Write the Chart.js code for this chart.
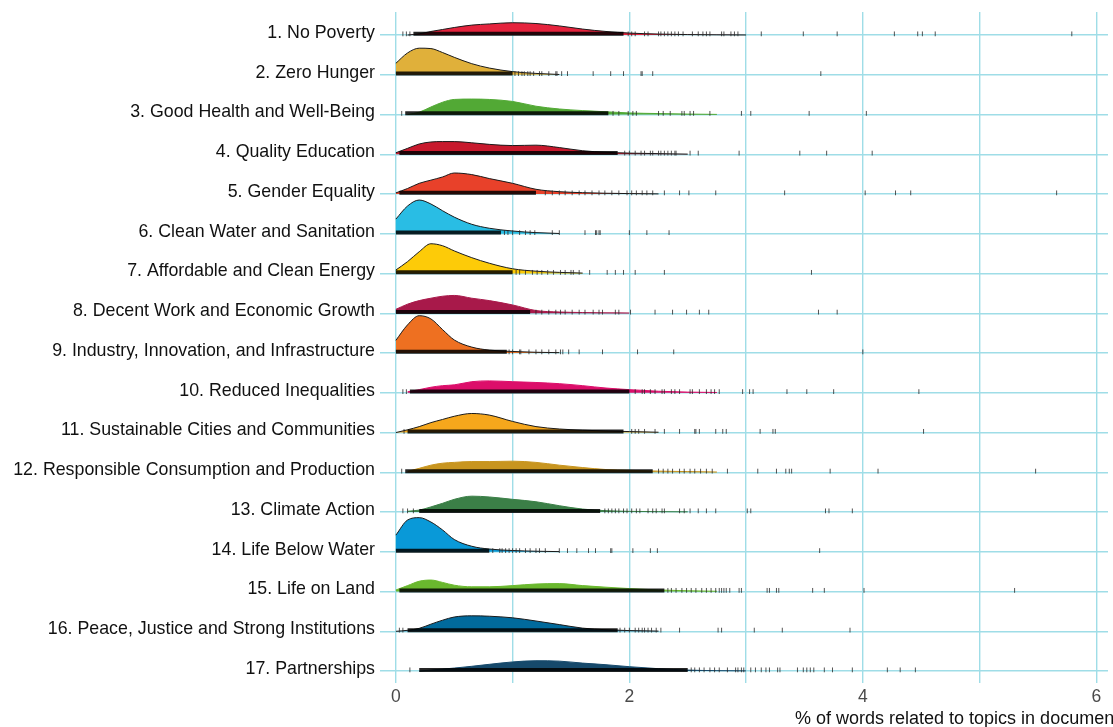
<!DOCTYPE html>
<html>
<head>
<meta charset="utf-8">
<script src="https://cdn.jsdelivr.net/npm/chart.js@4.4.1/dist/chart.umd.min.js"></script>
<style>
  html, body { margin: 0; padding: 0; background: #fff; overflow: hidden; }
  #wrap { width: 1113px; height: 727px; }
</style>
</head>
<body>
<div id="wrap"><canvas id="chart" width="1113" height="727"></canvas></div>
<script>
const goals = [
  "1. No Poverty",
  "2. Zero Hunger",
  "3. Good Health and Well-Being",
  "4. Quality Education",
  "5. Gender Equality",
  "6. Clean Water and Sanitation",
  "7. Affordable and Clean Energy",
  "8. Decent Work and Economic Growth",
  "9. Industry, Innovation, and Infrastructure",
  "10. Reduced Inequalities",
  "11. Sustainable Cities and Communities",
  "12. Responsible Consumption and Production",
  "13. Climate Action",
  "14. Life Below Water",
  "15. Life on Land",
  "16. Peace, Justice and Strong Institutions",
  "17. Partnerships",
];

const goalColors = [
  "#e5233d", "#e0b03a", "#52a935", "#c8192d", "#e8412a", "#29bde4",
  "#fdcb08", "#a8194a", "#ee7021", "#dc0e6a", "#f6a71c", "#c8951f",
  "#3b7f47", "#0999d8", "#6ab82e", "#016a9c", "#16496b",
];

// rows whose ridge has a dark outline
const outlined = [true, true, false, true, true, true, true, false, true,
  false, true, false, false, true, false, true, false];

const xTitle = "% of words related to topics in documents";
const xTickValues = [0, 1, 2, 3, 4, 5, 6];

// density curves (height in row units)
const gridX = [0, 0.1, 0.2, 0.3, 0.4, 0.5, 0.65, 0.8, 1.0, 1.2, 1.4, 1.6, 1.8, 2.0, 2.25, 2.5, 2.75, 3.0];
const density = [
  [null, 0, 0.03, 0.09, 0.14, 0.19, 0.25, 0.28, 0.31, 0.29, 0.23, 0.15, 0.09, 0.05, 0.025, 0.012, 0.006, 0.002],
  [0.29, 0.55, 0.67, 0.66, 0.56, 0.44, 0.28, 0.17, 0.08, 0.035, 0.008, null, null, null, null, null, null, null],
  [null, 0, 0.06, 0.19, 0.31, 0.38, 0.39, 0.38, 0.33, 0.21, 0.14, 0.10, 0.07, 0.04, 0.025, 0.012, 0.004, null],
  [0.04, 0.15, 0.26, 0.31, 0.32, 0.32, 0.29, 0.25, 0.22, 0.23, 0.17, 0.09, 0.05, 0.03, 0.017, 0.005, null, null],
  [0.03, 0.14, 0.27, 0.35, 0.43, 0.53, 0.49, 0.39, 0.27, 0.12, 0.06, 0.035, 0.02, 0.012, 0.004, null, null, null],
  [0.37, 0.70, 0.85, 0.75, 0.58, 0.42, 0.24, 0.14, 0.07, 0.03, 0.008, null, null, null, null, null, null, null],
  [0.09, 0.30, 0.55, 0.75, 0.70, 0.57, 0.40, 0.26, 0.12, 0.06, 0.03, 0.012, null, null, null, null, null, null],
  [0.10, 0.23, 0.32, 0.38, 0.43, 0.45, 0.38, 0.32, 0.21, 0.07, 0.033, 0.02, 0.012, 0.008, null, null, null, null],
  [0.32, 0.71, 0.94, 0.86, 0.59, 0.33, 0.15, 0.075, 0.04, 0.02, 0.01, null, null, null, null, null, null, null],
  [null, 0.025, 0.08, 0.14, 0.18, 0.20, 0.28, 0.30, 0.28, 0.26, 0.23, 0.18, 0.12, 0.08, 0.04, 0.018, 0.008, null],
  [0, 0.07, 0.15, 0.25, 0.33, 0.41, 0.48, 0.44, 0.28, 0.15, 0.09, 0.06, 0.04, 0.025, 0.008, null, null, null],
  [null, 0.025, 0.10, 0.18, 0.23, 0.25, 0.27, 0.27, 0.28, 0.25, 0.18, 0.12, 0.07, 0.05, 0.03, 0.018, 0.008, null],
  [null, 0.02, 0.05, 0.13, 0.22, 0.32, 0.40, 0.38, 0.32, 0.26, 0.16, 0.075, 0.035, 0.018, 0.01, 0.005, null, null],
  [0.42, 0.80, 0.86, 0.75, 0.55, 0.31, 0.14, 0.07, 0.033, 0.015, 0.005, null, null, null, null, null, null, null],
  [0.04, 0.15, 0.26, 0.29, 0.23, 0.16, 0.12, 0.12, 0.15, 0.19, 0.20, 0.15, 0.11, 0.075, 0.04, 0.02, 0.008, null],
  [0, 0.025, 0.075, 0.18, 0.28, 0.36, 0.39, 0.38, 0.34, 0.26, 0.17, 0.08, 0.04, 0.018, 0.005, null, null, null],
  [null, null, 0, 0.025, 0.05, 0.075, 0.12, 0.17, 0.23, 0.26, 0.25, 0.20, 0.16, 0.11, 0.06, 0.025, 0.01, 0.005],
];

// rug: the packed part as [from, to], then the loose single documents
const rugDense = [
  [0.15, 1.95], [0, 1.0], [0.08, 1.82], [0.03, 1.9], [0.03, 1.2], [0, 0.9],
  [0, 1.0], [0, 1.15], [0, 0.95], [0.12, 2.0], [0.1, 1.95], [0.08, 2.2],
  [0.2, 1.75], [0, 0.8], [0.03, 2.3], [0.1, 1.9], [0.2, 2.5],
];
const rugTicks = [
  [0.06, 0.09, 0.12, 1.99, 2.02, 2.05, 2.13, 2.16, 2.25, 2.27, 2.3, 2.33, 2.36, 2.39, 2.42, 2.46, 2.54, 2.59, 2.63, 2.66, 2.69, 2.79, 2.81, 2.87, 2.9, 2.93, 3.13, 3.49, 3.78, 4.27, 4.47, 4.51, 4.62, 5.79],
  [1.02, 1.05, 1.08, 1.1, 1.13, 1.15, 1.18, 1.23, 1.25, 1.31, 1.37, 1.38, 1.42, 1.47, 1.69, 1.84, 1.95, 2.1, 2.11, 2.2, 3.64],
  [0.05, 1.86, 1.91, 1.99, 2.03, 2.06, 2.25, 2.29, 2.35, 2.45, 2.47, 2.52, 2.55, 2.69, 2.96, 3.04, 3.54, 4.03],
  [1.96, 2.0, 2.05, 2.1, 2.13, 2.18, 2.2, 2.25, 2.27, 2.3, 2.33, 2.36, 2.39, 2.4, 2.52, 2.59, 2.94, 3.46, 3.69, 4.08],
  [1.28, 1.34, 1.4, 1.45, 1.51, 1.57, 1.62, 1.68, 1.74, 1.79, 1.85, 1.91, 1.98, 2.02, 2.06, 2.11, 2.15, 2.2, 2.3, 2.43, 2.51, 2.74, 3.33, 4.02, 4.28, 4.41, 5.66],
  [0.93, 0.96, 1.0, 1.06, 1.11, 1.15, 1.19, 1.34, 1.4, 1.62, 1.71, 1.72, 1.74, 1.75, 2.0, 2.15, 2.34],
  [1.03, 1.06, 1.11, 1.17, 1.21, 1.25, 1.3, 1.35, 1.41, 1.45, 1.5, 1.52, 1.57, 1.66, 1.81, 1.88, 1.95, 2.05, 2.3, 3.56],
  [1.2, 1.25, 1.31, 1.37, 1.41, 1.45, 1.51, 1.57, 1.62, 1.69, 1.74, 1.77, 1.88, 1.91, 2.01, 2.22, 2.37, 2.49, 2.6, 2.68, 3.62, 3.78],
  [0.97, 1.0, 1.06, 1.07, 1.14, 1.2, 1.25, 1.31, 1.37, 1.41, 1.43, 1.48, 1.57, 1.77, 2.07, 2.38, 4.0],
  [0.06, 0.09, 2.05, 2.11, 2.13, 2.18, 2.22, 2.28, 2.3, 2.36, 2.39, 2.43, 2.52, 2.54, 2.6, 2.66, 2.7, 2.73, 2.77, 2.97, 3.03, 3.06, 3.35, 3.52, 3.75, 4.48],
  [0.07, 2.02, 2.05, 2.08, 2.13, 2.22, 2.3, 2.43, 2.56, 2.57, 2.6, 2.74, 2.8, 2.83, 3.12, 3.23, 3.25, 4.52],
  [0.05, 2.25, 2.29, 2.33, 2.37, 2.43, 2.47, 2.52, 2.56, 2.61, 2.66, 2.71, 2.84, 3.1, 3.26, 3.34, 3.37, 3.39, 3.72, 4.13, 5.48],
  [0.06, 0.1, 0.15, 1.79, 1.82, 1.85, 1.88, 1.91, 1.95, 1.98, 2.02, 2.06, 2.09, 2.16, 2.2, 2.23, 2.28, 2.3, 2.43, 2.47, 2.52, 2.59, 2.66, 2.74, 3.01, 3.04, 3.68, 3.71, 3.91],
  [0.83, 0.89, 0.91, 0.94, 0.97, 1.0, 1.03, 1.06, 1.11, 1.15, 1.2, 1.23, 1.28, 1.4, 1.47, 1.55, 1.65, 1.71, 1.84, 1.85, 2.03, 2.18, 2.24, 3.63],
  [2.33, 2.36, 2.4, 2.45, 2.49, 2.53, 2.57, 2.62, 2.66, 2.7, 2.74, 2.77, 2.79, 2.81, 2.83, 2.86, 2.94, 2.96, 3.18, 3.2, 3.26, 3.28, 3.57, 3.67, 4.01, 5.3],
  [0.03, 0.06, 1.92, 1.96, 2.0, 2.05, 2.08, 2.11, 2.13, 2.16, 2.19, 2.23, 2.27, 2.43, 2.76, 2.79, 3.07, 3.31, 3.89],
  [0.12, 2.53, 2.56, 2.6, 2.64, 2.69, 2.73, 2.77, 2.84, 2.91, 2.93, 2.96, 2.98, 3.04, 3.08, 3.13, 3.17, 3.2, 3.27, 3.29, 3.44, 3.49, 3.52, 3.55, 3.58, 3.67, 3.74, 3.91, 4.21, 4.32, 4.45],
];

const FONT = "'Liberation Sans', Arial, Helvetica, sans-serif";
const GRID = "#9fdde7";
const rowCount = goals.length;
const rugLift = 0.03;

function baseOf(i) {
  return rowCount - 1 - i;
}

const datasets = [];
for (let i = 0; i < rowCount; i++) {
  const base = baseOf(i);
  datasets.push({
    label: goals[i],
    data: gridX.map((x, k) => ({ x: x, y: density[i][k] === null ? null : base + density[i][k] })),
    backgroundColor: goalColors[i],
    borderColor: outlined[i] ? "#1a1a1a" : goalColors[i],
    borderWidth: 1,
    fill: { value: base },
    pointRadius: 0,
    cubicInterpolationMode: "monotone",
    order: 2,
  });
  datasets.push({
    label: goals[i] + " rug",
    data: rugDense[i].map((x) => ({ x: x, y: base + rugLift })),
    borderColor: "rgba(0,0,0,0.85)",
    borderWidth: 4,
    borderCapStyle: "butt",
    pointRadius: 0,
    fill: false,
    order: 1,
  });
  datasets.push({
    label: goals[i] + " docs",
    data: rugTicks[i].map((x) => ({ x: x, y: base + rugLift })),
    showLine: false,
    pointStyle: "line",
    rotation: 90,
    pointRadius: 2.4,
    pointBorderWidth: 1,
    borderColor: "rgba(40,40,40,0.8)",
    backgroundColor: "rgba(40,40,40,0.8)",
    order: 0,
  });
}

// x axis title runs off the right edge in the original
const axisTitlePlugin = {
  id: "axisTitle",
  afterDraw(chart) {
    const ctx = chart.ctx;
    ctx.save();
    ctx.font = "18px " + FONT;
    ctx.fillStyle = "#111";
    ctx.textAlign = "left";
    ctx.textBaseline = "middle";
    ctx.fillText(xTitle, 795, 719);
    ctx.restore();
  },
};

new Chart(document.getElementById("chart"), {
  type: "line",
  data: { datasets: datasets },
  plugins: [axisTitlePlugin],
  options: {
    responsive: false,
    animation: false,
    devicePixelRatio: 1,
    layout: { padding: { top: 12, right: 0, bottom: 0, left: 0 } },
    plugins: {
      legend: { display: false },
      tooltip: { enabled: false },
    },
    scales: {
      x: {
        type: "linear",
        min: -0.136,
        max: 6.1,
        afterBuildTicks(scale) {
          scale.ticks = xTickValues.map((v) => ({ value: v }));
        },
        afterFit(scale) {
          scale.height = 44;
          scale.paddingLeft = 0;
          scale.paddingRight = 0;
        },
        grid: { color: GRID, lineWidth: 1.4, drawTicks: false },
        border: { display: false },
        ticks: {
          padding: 4,
          color: "#4a4a4a",
          font: { family: FONT, size: 17.5 },
          maxRotation: 0,
          autoSkip: false,
          callback: (v) => (v % 2 === 0 ? String(v) : ""),
        },
      },
      y: {
        type: "linear",
        min: -0.3,
        max: 16.58,
        afterBuildTicks(scale) {
          scale.ticks = goals.map((g, i) => ({ value: baseOf(i) }));
        },
        afterFit(scale) {
          scale.width = 380;
          scale.paddingTop = 0;
          scale.paddingBottom = 0;
        },
        grid: { color: GRID, lineWidth: 1.6, drawTicks: false },
        border: { display: false },
        ticks: {
          padding: 5,
          labelOffset: -2,
          color: "#111",
          font: { family: FONT, size: 17.8 },
          autoSkip: false,
          callback: (v) => goals[rowCount - 1 - v],
        },
      },
    },
  },
});
</script>
</body>
</html>
